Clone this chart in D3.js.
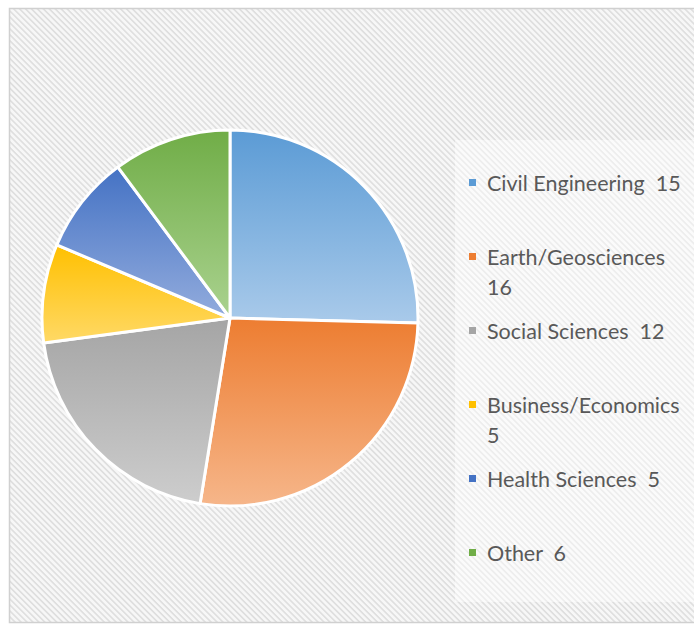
<!DOCTYPE html>
<html lang="en">
	<head>
		<meta charset="utf-8">
		<title>Pie chart by discipline</title>
		<script src="https://cdn.jsdelivr.net/npm/d3@7"></script>
		<style>
			body { margin:0; background:#fff; }
			text { font-family: Lato, "Open Sans", sans-serif; fill:#595959; }
		</style>
	</head>
	<body>
		<script>

			// data
			var categories = ["Civil Engineering", "Earth/Geosciences", "Social Sciences", "Business/Economics", "Health Sciences", "Other"];
			var counts = [15, 16, 12, 5, 5, 6];
			// legend lines (wrapped as in the original)
			var legendLines = [["Civil Engineering  15"], ["Earth/Geosciences", "16"], ["Social Sciences  12"], ["Business/Economics", "5"], ["Health Sciences  5"], ["Other  6"]];
			var topColors = ["#5b9bd5", "#ed7d31", "#a5a5a5", "#ffc000", "#4472c4", "#70ad47"];
			var bottomColors = ["#a9caea", "#f6b68a", "#cdcdcd", "#ffd966", "#93acdd", "#aad28f"];

			var w = 694, h = 626;

			var svg = d3.select("body").append("svg")
				.attr("width", w)
				.attr("height", h);

			var defs = svg.append("defs");

			// diagonal hatch background
			var pat = defs.append("pattern")
				.attr("id", "hatch")
				.attr("patternUnits", "userSpaceOnUse")
				.attr("width", 4.2)
				.attr("height", 4.2)
				.attr("patternTransform", "rotate(45)");
			pat.append("rect").attr("width", 4.2).attr("height", 4.2).attr("fill", "#f7f7f7");
			pat.append("rect").attr("width", 4.2).attr("height", 1.6).attr("fill", "#dedede");

			topColors.forEach(function(c, i) {
				var g = defs.append("linearGradient")
					.attr("id", "grad" + i)
					.attr("x1", 0).attr("y1", 0).attr("x2", 0).attr("y2", 1);
				g.append("stop").attr("offset", "0%").attr("stop-color", c);
				g.append("stop").attr("offset", "100%").attr("stop-color", bottomColors[i]);
			});

			// frame
			svg.append("rect")
				.attr("x", 9.5).attr("y", 8.5)
				.attr("width", w).attr("height", 614)
				.attr("fill", "url(#hatch)")
				.attr("stroke", "#d0d0d0")
				.attr("stroke-width", 1.5);

			// pie
			var cx = 230, cy = 318, r = 188;

			var pie = d3.pie().sort(null).value(function(d) { return d; });
			var arc = d3.arc().innerRadius(0).outerRadius(r);

			var g = svg.append("g").attr("transform", "translate(" + cx + "," + cy + ")");

			g.selectAll("path")
				.data(pie(counts))
				.enter()
				.append("path")
				.attr("d", arc)
				.attr("fill", function(d, i) { return "url(#grad" + i + ")"; })
				.attr("stroke", "#fff")
				.attr("stroke-width", 3)
				.attr("stroke-linejoin", "round");

			// legend box
			svg.append("rect")
				.attr("x", 455).attr("y", 140)
				.attr("width", 239).attr("height", 462)
				.attr("fill", "#fff")
				.attr("opacity", 0.45);

			var ly = d3.scalePoint().domain(categories).range([183, 553]);

			var items = svg.selectAll("g.legend")
				.data(categories)
				.enter()
				.append("g")
				.attr("class", "legend")
				.attr("transform", function(d) { return "translate(0," + ly(d) + ")"; });

			items.append("rect")
				.attr("x", 469).attr("y", -4)
				.attr("width", 7).attr("height", 7)
				.attr("fill", function(d, i) { return topColors[i]; });

			items.each(function(d, i) {
				var t = d3.select(this).append("text")
					.attr("x", 487)
					.attr("y", 8)
					.attr("font-size", 21.5)
					.attr("xml:space", "preserve");
				legendLines[i].forEach(function(line, j) {
					t.append("tspan")
						.attr("x", 487)
						.attr("dy", j === 0 ? 0 : 30)
						.text(line);
				});
			});

		</script>
	</body>
</html>
